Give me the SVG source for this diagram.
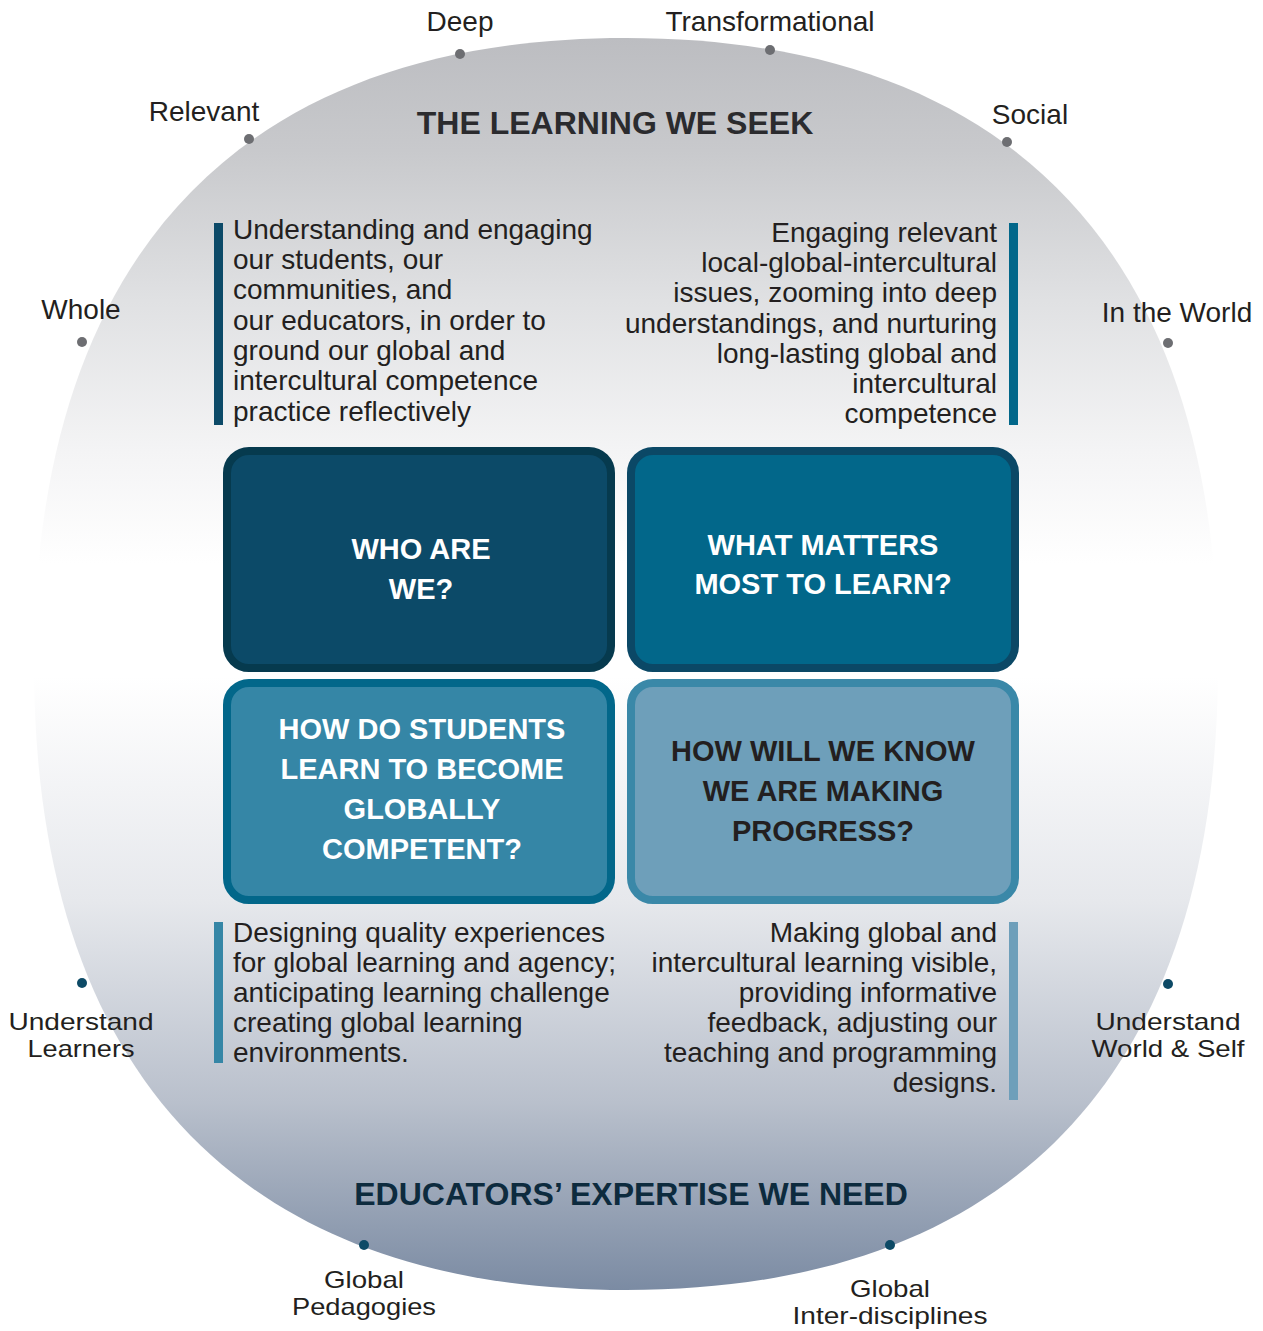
<svg xmlns="http://www.w3.org/2000/svg" width="1263" height="1331" viewBox="0 0 1263 1331">
<defs>
<linearGradient id="bg" gradientUnits="userSpaceOnUse" x1="0" y1="38" x2="0" y2="1290">
<stop offset="0" stop-color="#bcbdc1"/>
<stop offset="0.09" stop-color="#c8c9cc"/>
<stop offset="0.21" stop-color="#e0e1e3"/>
<stop offset="0.33" stop-color="#f4f4f5"/>
<stop offset="0.42" stop-color="#ffffff"/>
<stop offset="0.51" stop-color="#ffffff"/>
<stop offset="0.69" stop-color="#e6e8ec"/>
<stop offset="0.85" stop-color="#b9c0cc"/>
<stop offset="1" stop-color="#7b8ba3"/>
</linearGradient>
<style>
.lbl{font-family:"Liberation Sans",Arial,sans-serif;font-size:28px;fill:#231f20;text-anchor:middle}
.lbl2{font-family:"Liberation Sans",Arial,sans-serif;font-size:24px;fill:#231f20;text-anchor:middle}
.body{font-family:"Liberation Sans",Arial,sans-serif;font-size:28px;fill:#231f20}
.r{text-anchor:end}
.q{font-family:"Liberation Sans",Arial,sans-serif;font-size:29px;font-weight:bold;text-anchor:middle}
.title{font-family:"Liberation Sans",Arial,sans-serif;font-size:32px;font-weight:bold;text-anchor:middle}
.dg{fill:#6d6e72}
.db{fill:#0d4a66}
</style>
</defs>
<rect width="1263" height="1331" fill="#ffffff"/>
<g id="background">
<path d="M 1218 664 C 1218 1072 1012 1290 626 1290 C 240 1290 34 1072 34 664 C 34 256 240 38 626 38 C 1012 38 1218 256 1218 664 Z" fill="url(#bg)"/>
</g>
<g id="titles">
<text class="title" x="615" y="134" fill="#2b2b2e">THE LEARNING WE SEEK</text>
<text class="title" x="631" y="1205" fill="#0d2b3e">EDUCATORS’ EXPERTISE WE NEED</text>
</g>
<g id="labels">
<g id="lbl-deep"><circle class="dg" cx="460" cy="54" r="5"/><text class="lbl" x="460" y="31">Deep</text></g>
<g id="lbl-transformational"><circle class="dg" cx="770" cy="50" r="5"/><text class="lbl" x="770" y="31">Transformational</text></g>
<g id="lbl-relevant"><circle class="dg" cx="249" cy="139" r="5"/><text class="lbl" x="204" y="121">Relevant</text></g>
<g id="lbl-social"><circle class="dg" cx="1007" cy="142" r="5"/><text class="lbl" x="1030" y="124">Social</text></g>
<g id="lbl-whole"><circle class="dg" cx="82" cy="342" r="5"/><text class="lbl" x="81" y="319">Whole</text></g>
<g id="lbl-world"><circle class="dg" cx="1168" cy="343" r="5"/><text class="lbl" x="1177" y="322">In the World</text></g>
<g id="lbl-learners"><circle class="db" cx="82" cy="983" r="5"/><text class="lbl2" x="81" y="1030" textLength="145" lengthAdjust="spacingAndGlyphs">Understand</text><text class="lbl2" x="81" y="1057" textLength="107" lengthAdjust="spacingAndGlyphs">Learners</text></g>
<g id="lbl-worldself"><circle class="db" cx="1168" cy="984" r="5"/><text class="lbl2" x="1168" y="1030" textLength="145" lengthAdjust="spacingAndGlyphs">Understand</text><text class="lbl2" x="1168" y="1057" textLength="153" lengthAdjust="spacingAndGlyphs">World &amp; Self</text></g>
<g id="lbl-pedagogies"><circle class="db" cx="364" cy="1245" r="5"/><text class="lbl2" x="364" y="1288" textLength="80" lengthAdjust="spacingAndGlyphs">Global</text><text class="lbl2" x="364" y="1315" textLength="144" lengthAdjust="spacingAndGlyphs">Pedagogies</text></g>
<g id="lbl-disciplines"><circle class="db" cx="890" cy="1245" r="5"/><text class="lbl2" x="890" y="1297" textLength="80" lengthAdjust="spacingAndGlyphs">Global</text><text class="lbl2" x="890" y="1324" textLength="195" lengthAdjust="spacingAndGlyphs">Inter-disciplines</text></g>
</g>
<g id="desc-who">
<rect x="214" y="223" width="9" height="202" fill="#0c4a68"/>
<text class="body" x="233" y="239">Understanding and engaging</text>
<text class="body" x="233" y="269">our students, our</text>
<text class="body" x="233" y="299">communities, and</text>
<text class="body" x="233" y="330">our educators, in order to</text>
<text class="body" x="233" y="360">ground our global and</text>
<text class="body" x="233" y="390">intercultural competence</text>
<text class="body" x="233" y="421">practice reflectively</text>
</g>
<g id="desc-what">
<rect x="1009" y="223" width="9" height="202" fill="#02678a"/>
<text class="body r" x="997" y="242">Engaging relevant</text>
<text class="body r" x="997" y="272">local-global-intercultural</text>
<text class="body r" x="997" y="302">issues, zooming into deep</text>
<text class="body r" x="997" y="333">understandings, and nurturing</text>
<text class="body r" x="997" y="363">long-lasting global and</text>
<text class="body r" x="997" y="393">intercultural</text>
<text class="body r" x="997" y="423">competence</text>
</g>
<g id="desc-how">
<rect x="214" y="922" width="9" height="141" fill="#3586a6"/>
<text class="body" x="233" y="942">Designing quality experiences</text>
<text class="body" x="233" y="972">for global learning and agency;</text>
<text class="body" x="233" y="1002">anticipating learning challenge</text>
<text class="body" x="233" y="1032">creating global learning</text>
<text class="body" x="233" y="1062">environments.</text>
</g>
<g id="desc-progress">
<rect x="1009" y="922" width="9" height="178" fill="#6e9fba"/>
<text class="body r" x="997" y="942">Making global and</text>
<text class="body r" x="997" y="972">intercultural learning visible,</text>
<text class="body r" x="997" y="1002">providing informative</text>
<text class="body r" x="997" y="1032">feedback, adjusting our</text>
<text class="body r" x="997" y="1062">teaching and programming</text>
<text class="body r" x="997" y="1092">designs.</text>
</g>
<g id="box-who">
<rect x="227" y="451" width="384" height="217" rx="22" fill="#0c4a68" stroke="#063a4e" stroke-width="8"/>
<text class="q" x="421" y="559" fill="#ffffff">WHO ARE</text>
<text class="q" x="421" y="599" fill="#ffffff">WE?</text>
</g>
<g id="box-what">
<rect x="631" y="451" width="384" height="217" rx="22" fill="#02678a" stroke="#0b4866" stroke-width="8"/>
<text class="q" x="823" y="555" fill="#ffffff">WHAT MATTERS</text>
<text class="q" x="823" y="594" fill="#ffffff">MOST TO LEARN?</text>
</g>
<g id="box-how">
<rect x="227" y="683" width="384" height="217" rx="22" fill="#3586a6" stroke="#02678a" stroke-width="8"/>
<text class="q" x="422" y="739" fill="#ffffff">HOW DO STUDENTS</text>
<text class="q" x="422" y="779" fill="#ffffff">LEARN TO BECOME</text>
<text class="q" x="422" y="819" fill="#ffffff">GLOBALLY</text>
<text class="q" x="422" y="859" fill="#ffffff">COMPETENT?</text>
</g>
<g id="box-progress">
<rect x="631" y="683" width="384" height="217" rx="22" fill="#6e9fba" stroke="#3a88a8" stroke-width="8"/>
<text class="q" x="823" y="761" fill="#231f20">HOW WILL WE KNOW</text>
<text class="q" x="823" y="801" fill="#231f20">WE ARE MAKING</text>
<text class="q" x="823" y="841" fill="#231f20">PROGRESS?</text>
</g>
<g id="connectors"></g>
</svg>
